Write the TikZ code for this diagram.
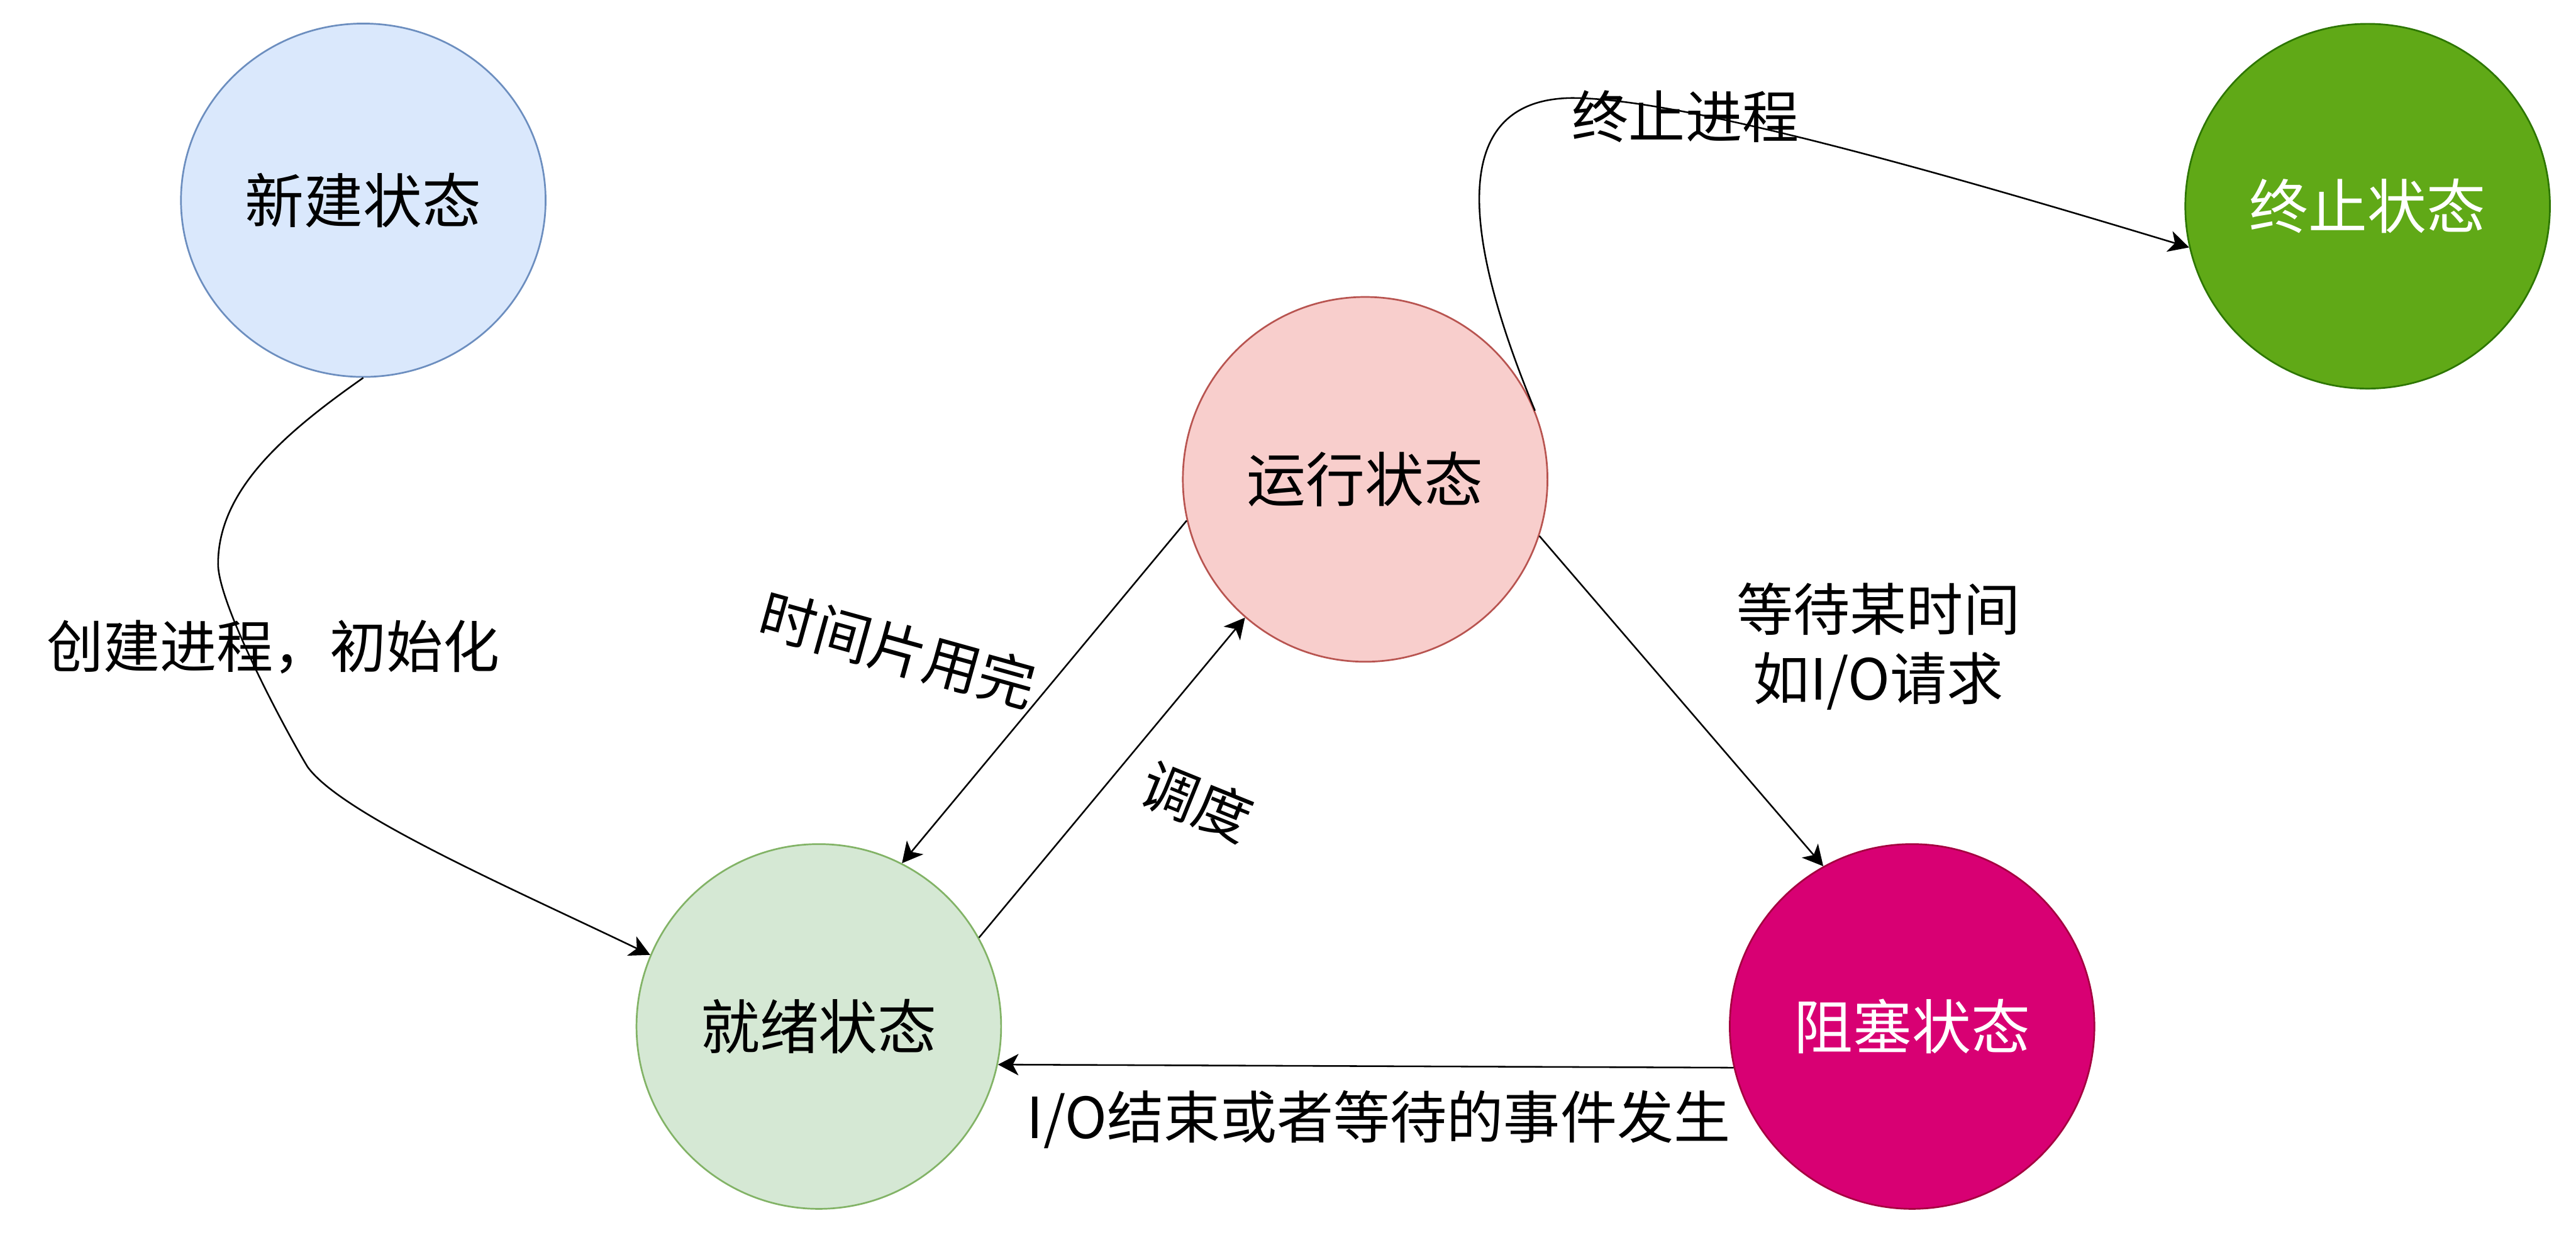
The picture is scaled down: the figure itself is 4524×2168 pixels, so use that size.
\documentclass[tikz,border=0pt]{standalone}
\usepackage{fontspec}
\setmainfont{Noto Sans CJK SC}
\usetikzlibrary{shapes.geometric,arrows.meta}
\definecolor{newfill}{HTML}{DAE8FC}
\definecolor{newline}{HTML}{6C8EBF}
\definecolor{runfill}{HTML}{F8CECC}
\definecolor{runline}{HTML}{B85450}
\definecolor{readyfill}{HTML}{D5E8D4}
\definecolor{readyline}{HTML}{82B366}
\definecolor{blockfill}{HTML}{D80073}
\definecolor{blockline}{HTML}{A50040}
\definecolor{termfill}{HTML}{60A917}
\definecolor{termline}{HTML}{2D7600}
\begin{document}
\begin{tikzpicture}[x=0.01cm,y=-0.01cm,
  state/.style={circle, minimum size=6.4cm, inner sep=0pt, line width=0.85pt,
    font=\fontsize{29.5}{34}\selectfont},
  lbl/.style={inner sep=0pt, font=\fontsize{28.3}{34.4}\selectfont, align=center},
  arr/.style={line width=0.8pt, -{Stealth[length=0.36cm,width=0.375cm,inset=0.1cm]}}]
\useasboundingbox (0,0) rectangle (4524,2168);
% states
\node[state, ellipse, minimum width=6.4cm, minimum height=6.2cm,
      fill=newfill, draw=newline] (new) at (638,351.5) {新建状态};
\node[state, fill=runfill, draw=runline] (run) at (2397.5,841.5) {运行状态};
\node[state, fill=termfill, draw=termline, text=white] (term) at (4158,362) {终止状态};
\node[state, fill=readyfill, draw=readyline] (ready) at (1438,1802) {就绪状态};
\node[state, fill=blockfill, draw=blockline, text=white] (block) at (3358,1802) {阻塞状态};
% labels
\node[lbl] (lcreate) at (480,1136) {创建进程，初始化};
\node[lbl] (lterm) at (2960,204) {终止进程};
\node[lbl, rotate=-15.5] (lslice) at (1577,1140) {时间片用完};
\node[lbl, rotate=-22] (lsched) at (2102,1407) {调度};
\node[lbl] (lwait) at (3299,1135) {等待某时间\\如I/O请求};
\node[lbl] (lio) at (2421,1965) {I/O结束或者等待的事件发生};
% connectors
\draw[arr] (new.south) .. controls (500,760) and (383,860) .. (383,990)
  .. controls (383,1060) and (500,1280) .. (540,1346)
  .. controls (600,1430) and (900,1560) .. (ready.157);
\draw[arr] (run.22.3) .. controls (2570,418) and (2540,175) .. (2760,172)
  .. controls (2950,172) and (3400,300) .. (term.193.8);
\draw[arr] (run.193.5) -- (ready.63.8);
\draw[arr] (ready.29.7) -- (run.229.9);
\draw[arr] (run.342.7) -- (block.119.9);
\draw[arr] (block.193.8) -- (ready.348.3);
\end{tikzpicture}
\end{document}
